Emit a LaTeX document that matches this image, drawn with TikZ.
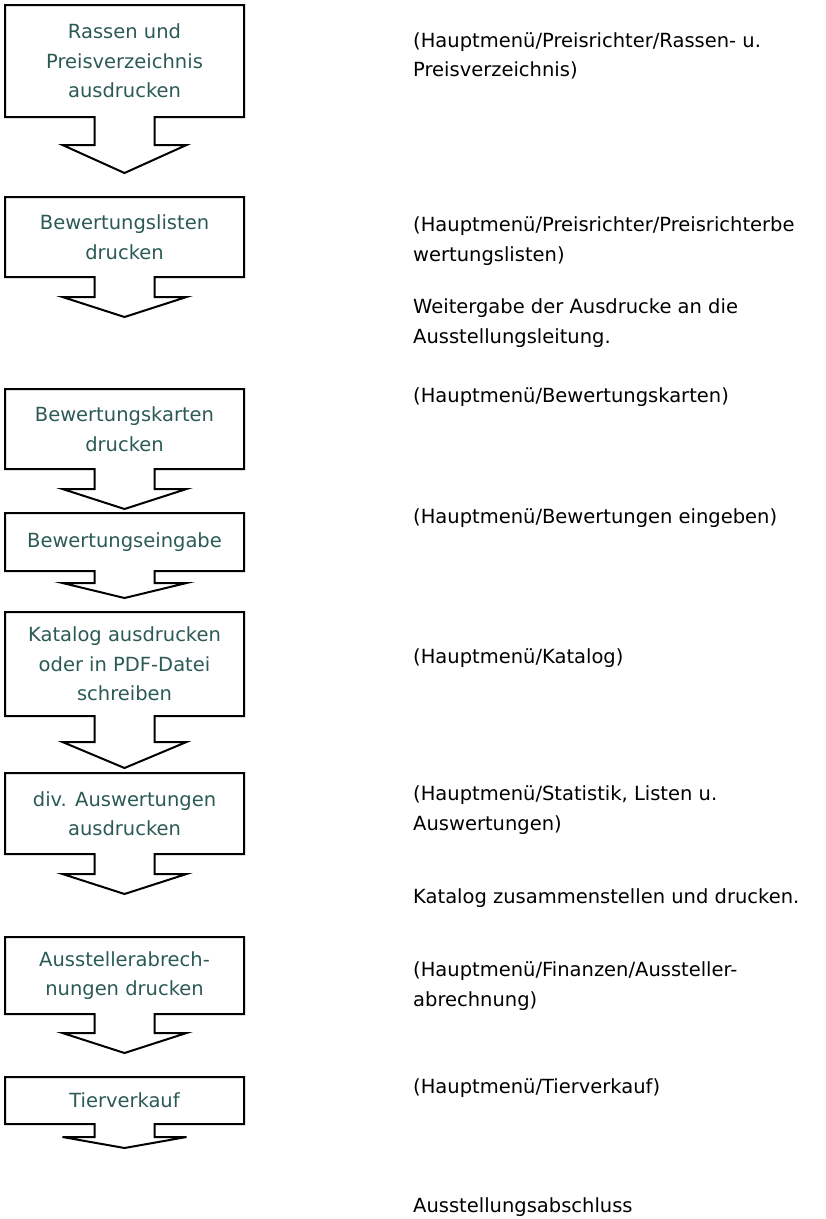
\documentclass[tikz,border=0pt]{standalone}
\usepackage{fontspec}
\setmainfont{DejaVu Sans}
\usepackage{tikz}
\usepackage{xcolor}
\definecolor{boxtext}{HTML}{2B5A55}
\newcommand{\callout}[3]{%
  \draw[outline] ([xshift=-30pt]#1.south) -- ++(0pt,-#2pt) -- ++(-32pt,0pt)
    -- ([yshift=-#3pt]#1.south) -- ([xshift=62pt,yshift=-#2pt]#1.south)
    -- ++(-32pt,0pt) -- ([xshift=30pt]#1.south) -- (#1.south east)
    -- (#1.north east) -- (#1.north west) -- (#1.south west) -- cycle;}
\tikzset{
  stepbox/.style={minimum width=239pt, inner sep=0pt, outer sep=0pt, align=center,
    text=boxtext, font=\fontsize{19.5}{29.5}\selectfont},
  menutext/.style={anchor=west, align=left, inner sep=0pt,
    font=\fontsize{19.5}{29.5}\selectfont},
  outline/.style={line width=2pt, line join=miter}
}

\begin{document}
\begin{tikzpicture}[x=1pt,y=-1pt]
    \useasboundingbox (0,0) rectangle (826,1219);
    \node[stepbox, minimum height=112pt] (rassen) at (124.5,61) {Rassen und\\Preisverzeichnis\\ausdrucken};
    \node[stepbox, minimum height=80pt] (listen) at (124.5,237) {Bewertungslisten\\drucken};
    \node[stepbox, minimum height=80pt] (karten) at (124.5,429) {Bewertungskarten\\drucken};
    \node[stepbox, minimum height=58pt] (eingabe) at (124.5,542) {Bewertungseingabe};
    \node[stepbox, minimum height=104pt] (katalog) at (124.5,664) {Katalog ausdrucken\\oder in PDF-Datei\\schreiben};
    \node[stepbox, minimum height=81pt] (auswertung) at (124.5,813.5) {div. Auswertungen\\ausdrucken};
    \node[stepbox, minimum height=77pt] (abrechnung) at (124.5,975.5) {Ausstellerabrech-\\nungen drucken};
    \node[stepbox, minimum height=47pt] (verkauf) at (124.5,1100.5) {Tierverkauf};
    \foreach \n/\s/\t in {rassen/28/56, listen/20/40, karten/20/40, eingabe/12/27,
        katalog/26/52, auswertung/20/40, abrechnung/19/39, verkauf/13/24}
    {
        \callout{\n}{\s}{\t}
    }
    \node[menutext] (menurassen) at (413,56) {(Hauptmenü/Preisrichter/Rassen- u.\\Preisverzeichnis)};
    \node[menutext] (menulisten) at (413,241) {(Hauptmenü/Preisrichter/Preisrichterbe\\wertungslisten)};
    \node[menutext] (weitergabe) at (413,323) {Weitergabe der Ausdrucke an die\\Ausstellungsleitung.};
    \node[menutext] (menukarten) at (413,397) {(Hauptmenü/Bewertungskarten)};
    \node[menutext] (menueingabe) at (413,518) {(Hauptmenü/Bewertungen eingeben)};
    \node[menutext] (menukatalog) at (413,658) {(Hauptmenü/Katalog)};
    \node[menutext] (menustatistik) at (413,810) {(Hauptmenü/Statistik, Listen u.\\Auswertungen)};
    \node[menutext] (zusammenstellen) at (413,898) {Katalog zusammenstellen und drucken.};
    \node[menutext] (menufinanzen) at (413,986) {(Hauptmenü/Finanzen/Aussteller-\\abrechnung)};
    \node[menutext] (menuverkauf) at (413,1088) {(Hauptmenü/Tierverkauf)};
    \node[menutext] (abschluss) at (413,1207) {Ausstellungsabschluss};
\end{tikzpicture}
\end{document}
